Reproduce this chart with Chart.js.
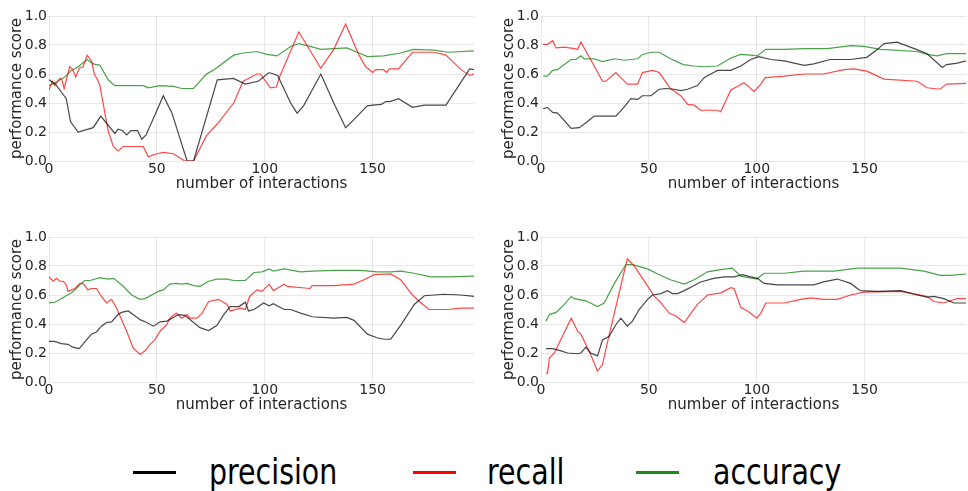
<!DOCTYPE html>
<html>
<head>
<meta charset="utf-8">
<script src="https://cdn.jsdelivr.net/npm/chart.js@4/dist/chart.umd.min.js"></script>
<style>
body { margin: 0; width: 968px; height: 491px; background: #fff; position: relative; overflow: hidden; font-family: "DejaVu Sans"; }
canvas { position: absolute; }
.leg-line { position: absolute; height: 3px; top: 471px; }
.leg-text { position: absolute; top: 454px; font-size: 36px; line-height: 36px; transform: scaleX(0.79); transform-origin: 0 0; color: #000; white-space: nowrap; }
</style>
</head>
<body>
<canvas id="p1" width="484" height="200" style="left:0;top:0"></canvas>
<canvas id="p2" width="476" height="200" style="left:492px;top:0"></canvas>
<canvas id="p3" width="484" height="200" style="left:0;top:221px"></canvas>
<canvas id="p4" width="476" height="200" style="left:492px;top:221px"></canvas>
<div id="legend"></div>
<script>
// Series names and colours
const SERIES = ['precision', 'recall', 'accuracy'];
const LINE_COLORS = ['rgba(0,0,0,0.72)', 'rgba(255,0,0,0.72)', 'rgba(0,128,0,0.72)'];
const LEGEND_COLORS = ['#000000', '#ff0000', '#1f8a1f'];
const X_TICKS_STEP = 50;
const Y_TICKS = [0, 0.2, 0.4, 0.6, 0.8, 1.0];
const X_MAX = 197;

// [interaction, score]
// top left
const p1Precision = [[0,0.56],[3,0.53],[8,0.43],[10,0.27],[13.5,0.2],[20.5,0.23],[24,0.31],[30.5,0.19],[32,0.22],[34,0.21],[36,0.18],[38,0.21],[41,0.21],[43,0.15],[45,0.18],[53,0.45],[57,0.33],[64,0.0],[67,0.0],[78,0.56],[85.5,0.57],[91,0.53],[97,0.55],[102,0.61],[106,0.59],[112,0.40],[115,0.33],[118,0.38],[126,0.60],[132,0.40],[137.5,0.23],[141,0.28],[147.5,0.38],[150,0.385],[154,0.39],[156,0.41],[158,0.41],[162,0.43],[168.5,0.37],[174,0.385],[184,0.385],[195,0.635],[197,0.63]];
const p1Recall = [[0,0.49],[1.5,0.55],[2.6,0.52],[5,0.57],[6,0.56],[7,0.5],[9.6,0.65],[11,0.63],[12.4,0.58],[14,0.64],[15.8,0.65],[17.7,0.73],[19.7,0.69],[21,0.60],[22.5,0.56],[23.6,0.52],[27.4,0.21],[29.8,0.10],[32,0.07],[34.4,0.10],[39,0.10],[43.7,0.10],[46,0.03],[50,0.05],[53,0.06],[57.7,0.05],[63,0.0],[67,0.0],[73,0.175],[78,0.255],[85.6,0.40],[90,0.55],[96.4,0.60],[98,0.60],[102.6,0.505],[105.4,0.51],[107,0.585],[115.8,0.89],[126,0.64],[132,0.77],[137.5,0.945],[143.7,0.73],[146.8,0.65],[150,0.61],[151.5,0.63],[155,0.63],[156.6,0.61],[157.7,0.635],[162,0.635],[168.5,0.75],[178.6,0.75],[184,0.73],[191,0.63],[195,0.59],[197,0.6]];
const p1Accuracy = [[0,0.52],[4,0.55],[7,0.575],[10,0.62],[13.5,0.65],[17.7,0.70],[20.5,0.67],[23.6,0.66],[27.4,0.56],[30.5,0.52],[39,0.52],[43.7,0.52],[46,0.505],[51.5,0.52],[57.7,0.515],[61.5,0.50],[67,0.50],[73,0.60],[76,0.625],[85.6,0.73],[90,0.745],[96.4,0.755],[101,0.735],[105.7,0.725],[112,0.79],[115.8,0.81],[121,0.79],[126,0.77],[132,0.775],[138,0.78],[143.7,0.745],[147.6,0.72],[155,0.725],[163,0.745],[169,0.77],[178.6,0.765],[185,0.75],[197,0.76]];

// top right
const p2Precision = [[1,0.36],[3,0.37],[5.4,0.335],[7.7,0.33],[14,0.225],[17.7,0.23],[21,0.265],[24.7,0.31],[28.5,0.31],[34.7,0.31],[37.8,0.36],[41.7,0.43],[44.8,0.425],[47,0.45],[51,0.45],[54.8,0.495],[57.9,0.50],[61.7,0.495],[64.8,0.485],[67.9,0.495],[72.5,0.52],[75.6,0.575],[78.7,0.60],[81.8,0.625],[88,0.625],[92.6,0.655],[97.2,0.70],[101,0.72],[106.5,0.70],[112.7,0.69],[122,0.66],[126.5,0.67],[134,0.70],[143.5,0.70],[151,0.715],[156,0.77],[159,0.81],[165,0.82],[174,0.77],[179,0.74],[186,0.645],[188,0.665],[193,0.675],[197,0.69]];
const p2Recall = [[1,0.805],[3,0.805],[5.4,0.83],[7,0.78],[10.8,0.785],[15.4,0.775],[17,0.77],[18.5,0.82],[23,0.70],[28.5,0.55],[30,0.55],[34.7,0.61],[37,0.575],[40,0.53],[44.8,0.53],[47,0.61],[51.7,0.625],[54.8,0.61],[60,0.50],[64.8,0.45],[68,0.39],[71,0.385],[74,0.35],[81.8,0.35],[83.3,0.34],[88,0.49],[91.8,0.52],[94,0.54],[95.7,0.52],[98.8,0.48],[101.9,0.53],[104,0.575],[112.7,0.585],[122,0.60],[131,0.60],[140.4,0.63],[145,0.635],[151,0.62],[159,0.565],[174.4,0.55],[179,0.505],[185,0.495],[188,0.53],[197,0.535]];
const p2Accuracy = [[1,0.585],[3,0.585],[5.4,0.625],[7.7,0.63],[10.8,0.665],[14,0.70],[16.2,0.70],[18.5,0.725],[20,0.705],[24.7,0.705],[28.5,0.685],[34,0.705],[38.6,0.695],[44.8,0.705],[47,0.735],[51,0.75],[54.8,0.75],[60,0.705],[66,0.665],[71,0.655],[75.6,0.65],[81.8,0.655],[88,0.71],[92.6,0.735],[97.2,0.73],[100.3,0.725],[104.2,0.77],[112.7,0.77],[122,0.775],[132.7,0.775],[143.5,0.795],[149.7,0.79],[157.4,0.77],[174.4,0.755],[179,0.735],[183.6,0.725],[188,0.74],[197,0.74]];

// bottom left
const p3Precision = [[0,0.28],[2.6,0.28],[5.7,0.265],[8.8,0.26],[11,0.24],[14,0.23],[17.4,0.29],[19.7,0.33],[22,0.345],[24.3,0.385],[26.7,0.41],[29,0.415],[32,0.465],[33.6,0.48],[36.7,0.49],[39,0.465],[42.2,0.43],[45.3,0.41],[48.4,0.385],[51.5,0.415],[54.6,0.42],[57.7,0.445],[60,0.465],[63,0.46],[67,0.41],[70,0.375],[74,0.355],[77.8,0.39],[81,0.465],[84,0.52],[88,0.52],[91,0.55],[92.5,0.49],[95,0.50],[99.5,0.545],[102,0.525],[104,0.54],[109,0.50],[112,0.50],[116.6,0.475],[122,0.45],[132,0.44],[138,0.445],[141.4,0.425],[147.6,0.33],[152,0.305],[155.3,0.295],[158.4,0.295],[163,0.39],[169.3,0.535],[174,0.595],[178.6,0.60],[183,0.605],[191,0.60],[197,0.59]];
const p3Recall = [[0,0.725],[1.9,0.695],[3.4,0.715],[5,0.695],[6.5,0.695],[8,0.67],[8.8,0.625],[10.4,0.635],[12,0.645],[14.3,0.68],[15.8,0.68],[18,0.635],[19.7,0.645],[22,0.645],[24.3,0.59],[26.7,0.545],[29,0.57],[31.3,0.51],[36,0.35],[39,0.235],[42.2,0.19],[44.5,0.215],[46.8,0.26],[49,0.29],[51.5,0.35],[54.6,0.395],[56,0.44],[59,0.475],[61.5,0.44],[64,0.465],[65.4,0.44],[68.5,0.44],[71,0.475],[74,0.555],[78.6,0.57],[82.5,0.535],[84,0.49],[88.7,0.51],[91,0.50],[93,0.59],[96.4,0.635],[98.8,0.625],[102,0.675],[104,0.63],[109,0.675],[110.4,0.66],[121,0.645],[122,0.665],[132,0.665],[141.4,0.675],[146,0.705],[150.7,0.74],[158.4,0.745],[163,0.705],[168.5,0.60],[172.4,0.545],[176.3,0.50],[184.8,0.50],[191,0.51],[197,0.51]];
const p3Accuracy = [[0,0.545],[2.6,0.55],[4,0.56],[8,0.595],[10.4,0.615],[12.7,0.645],[15,0.68],[16.6,0.70],[19,0.70],[23.6,0.72],[27.4,0.71],[30,0.715],[34.4,0.66],[38.3,0.60],[42.2,0.57],[44.5,0.575],[47.6,0.60],[50.7,0.625],[53,0.635],[56,0.675],[59,0.68],[61.5,0.675],[64,0.68],[67,0.665],[70,0.66],[74,0.695],[77.8,0.71],[82.5,0.71],[85.6,0.70],[91,0.70],[95,0.755],[98.8,0.76],[102,0.78],[104,0.765],[109,0.78],[116.6,0.76],[122,0.765],[132,0.77],[144.5,0.77],[152,0.76],[158.4,0.76],[163,0.765],[169.3,0.75],[177,0.725],[184.8,0.725],[197,0.73]];

// bottom right
const p4Precision = [[2.3,0.23],[5.4,0.23],[9.3,0.215],[12.3,0.20],[17,0.195],[18.5,0.20],[20.8,0.24],[23,0.20],[26.2,0.18],[28.5,0.29],[31.6,0.315],[34.7,0.395],[37,0.44],[40,0.385],[42.4,0.42],[45.5,0.50],[49.4,0.57],[51.7,0.60],[55.6,0.61],[58.6,0.63],[61,0.61],[63.3,0.61],[66.4,0.63],[71,0.665],[74,0.69],[80,0.715],[85,0.725],[89.5,0.725],[93.4,0.74],[97.2,0.725],[100.3,0.715],[103.4,0.68],[109.6,0.67],[120.4,0.67],[126.5,0.67],[131,0.69],[137.3,0.71],[143.5,0.68],[148,0.63],[156,0.625],[166.7,0.63],[172.8,0.605],[179,0.585],[182,0.59],[186.7,0.575],[191.4,0.545],[197,0.545]];
const p4Recall = [[2.3,0.065],[3,0.06],[3.9,0.165],[6.2,0.20],[14,0.44],[17,0.35],[18.5,0.33],[23,0.19],[26.2,0.075],[28.5,0.12],[30.9,0.28],[40,0.85],[43.2,0.80],[48.6,0.68],[52.5,0.59],[54.8,0.56],[59.4,0.475],[62.5,0.455],[66.4,0.41],[72.5,0.535],[77.2,0.60],[83.3,0.615],[88,0.65],[89.5,0.645],[92.6,0.515],[95.7,0.49],[100,0.44],[101.9,0.475],[104.2,0.545],[112.7,0.545],[120.4,0.57],[125,0.58],[131,0.57],[137.3,0.57],[143.5,0.60],[149.7,0.62],[166.7,0.625],[172.8,0.61],[179,0.59],[182,0.555],[186.7,0.545],[189.8,0.56],[192.9,0.575],[197,0.575]];
const p4Accuracy = [[2.3,0.42],[3.9,0.465],[7,0.48],[10.8,0.535],[14,0.59],[15.4,0.575],[20.8,0.56],[26.2,0.52],[29.3,0.545],[34,0.68],[39.4,0.81],[42.4,0.81],[49.4,0.78],[54.8,0.74],[60,0.705],[66.4,0.675],[71,0.705],[77.2,0.76],[83.3,0.775],[88.7,0.785],[92.6,0.73],[100,0.71],[103.4,0.75],[112.7,0.75],[122,0.765],[135.8,0.765],[146.6,0.785],[166.7,0.785],[177.5,0.765],[185,0.735],[189.8,0.735],[197,0.745]];

Chart.defaults.font.family = 'DejaVu Sans';
Chart.defaults.color = '#262626';

const GRID = 'rgba(0,0,0,0.09)';

function dataset(i, pts) {
    return {
        label: SERIES[i],
        data: pts.map(p => ({ x: p[0], y: p[1] })),
        borderColor: LINE_COLORS[i],
        borderWidth: 1.2,
        pointRadius: 0,
        tension: 0,
        fill: false
    };
}

function makePanel(id, prec, rec, acc, padRight) {
    const ctx = document.getElementById(id).getContext('2d');
    return new Chart(ctx, {
        type: 'line',
        data: { datasets: [dataset(0, prec), dataset(1, rec), dataset(2, acc)] },
        options: {
            responsive: false,
            animation: false,
            layout: { padding: { top: 16, right: padRight, bottom: 0, left: 0 } },
            plugins: { legend: { display: false }, tooltip: { enabled: false } },
            scales: {
                x: {
                    type: 'linear', min: 0, max: X_MAX,
                    border: { display: false },
                    grid: { color: GRID, drawTicks: false },
                    ticks: { stepSize: X_TICKS_STEP, includeBounds: false, padding: 0, maxRotation: 0, font: { size: 14 } },
                    title: { display: true, text: 'number of interactions', font: { size: 15 }, padding: { top: 0, bottom: 7 } },
                    afterFit: s => { s.height = 39; }
                },
                y: {
                    min: 0, max: 1,
                    border: { display: false },
                    grid: { color: GRID, drawTicks: false },
                    afterBuildTicks: s => { s.ticks = Y_TICKS.map(v => ({ value: v })); },
                    ticks: { padding: 2, font: { size: 14 }, callback: v => v.toFixed(1) },
                    title: { display: true, text: 'performance score', font: { size: 15 }, padding: { top: 8, bottom: 0 } },
                    afterFit: s => { s.width = 49; }
                }
            }
        }
    });
}

makePanel('p1', p1Precision, p1Recall, p1Accuracy, 10);
makePanel('p2', p2Precision, p2Recall, p2Accuracy, 2);
makePanel('p3', p3Precision, p3Recall, p3Accuracy, 10);
makePanel('p4', p4Precision, p4Recall, p4Accuracy, 2);

// legend under the panels
const LEGEND_LINE_X = [133, 413, 636];
const LEGEND_TEXT_X = [209, 487, 713];
const legend = document.getElementById('legend');
SERIES.forEach((name, i) => {
    const line = document.createElement('div');
    line.className = 'leg-line';
    line.style.left = LEGEND_LINE_X[i] + 'px';
    line.style.width = '43px';
    line.style.background = LEGEND_COLORS[i];
    legend.appendChild(line);
    const txt = document.createElement('div');
    txt.className = 'leg-text';
    txt.style.left = LEGEND_TEXT_X[i] + 'px';
    txt.textContent = name;
    legend.appendChild(txt);
});
</script>
</body>
</html>
